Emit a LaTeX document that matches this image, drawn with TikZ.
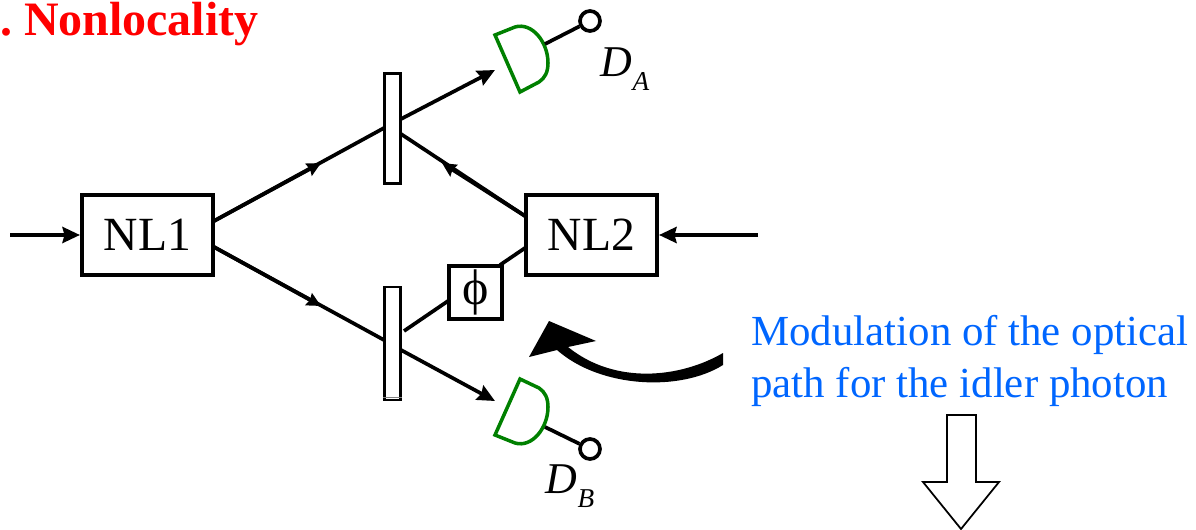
\documentclass[tikz,border=0pt]{standalone}
\usepackage{fontspec}
\setmainfont{Liberation Serif}
\usetikzlibrary{arrows.meta}
\definecolor{detgreen}{RGB}{0,128,0}
\definecolor{notered}{RGB}{255,0,0}
\definecolor{noteblue}{RGB}{0,102,255}
\tikzset{
  beam/.style={line width=2.1pt},
  ray/.style={beam,-{Stealth[length=3.5mm,width=3.2mm,inset=.4mm]}},
  midray/.style={beam,-{Stealth[length=2.8mm,width=2.7mm,inset=.3mm]}},
  crystal/.style={draw,line width=2.3pt,minimum width=2.62cm,minimum height=1.6cm,inner sep=0pt,font=\fontsize{27.1}{30}\selectfont},
  splitter/.style={draw,line width=1.3pt,fill=white,minimum width=.32cm,inner sep=0pt},
  detector/.style={draw=detgreen,line width=2pt,line join=miter},
  outlet/.style={draw,circle,line width=2.1pt,minimum size=.4cm,inner sep=0pt},
  note/.style={anchor=west,inner sep=0pt,text=noteblue,font=\fontsize{24.4}{26}\selectfont},
  detname/.style={font=\fontsize{25}{28}\selectfont\itshape,inner sep=0pt},
}
\newcommand{\detsub}[1]{\raisebox{-.32em}{\fontsize{15.5}{18}\selectfont #1}}
\begin{document}
\begin{tikzpicture}[x=.02cm,y=-.02cm]
\useasboundingbox (0,0) rectangle (1196,530);
\clip (0,0) rectangle (1196,530);
\node[anchor=west,inner sep=0pt,text=notered,font=\fontsize{27.3}{30}\selectfont\bfseries] (title) at (0,24) {. \hspace{-2.4pt}Nonlocality};
\node[crystal] (nla) at (147.5,235) {NL1};
\node[crystal] (nlb) at (591.5,235) {NL2};
\node[splitter,minimum height=2.2cm] (bsa) at (392.5,128.5) {};
\node[splitter,minimum height=2.26cm] (bsb) at (392.5,343.5) {};
\draw[line width=.6pt,gray] ([yshift=.07cm]bsb.south west) -- ([yshift=.07cm]bsb.south east);
\node[draw,line width=2.3pt,minimum size=1.06cm,inner sep=0pt,font=\fontsize{28.5}{30}\selectfont] (phase) at (475.5,292.5) {\char"03D5};
% detectors
\draw[detector] (495,35) -- (515,27) .. controls (532,22) and (548,42) .. (548,63) .. controls (548,72) and (545,78) .. (539,82) -- (520,92) -- cycle;
\draw[detector] (495,435) -- (515,443) .. controls (532,448) and (548,428) .. (548,407) .. controls (548,398) and (545,392) .. (539,388) -- (520,379) -- cycle;
\node[outlet] (outa) at (590,21) {};
\node[outlet] (outb) at (590,449) {};
\coordinate (deta) at (545,44);
\coordinate (detb) at (545,427);
\draw[beam] (deta) -- (outa);
\draw[beam] (detb) -- (outb);
\node[detname] (namea) at (625,69) {D\detsub{A}};
\node[detname] (nameb) at (570,486) {D\detsub{B}};
% beams
\coordinate (ina) at (10,235);
\coordinate (inb) at (758,235);
\draw[ray] (ina) -- (nla);
\draw[ray] (inb) -- (nlb);
\coordinate (a1) at (214,221);
\coordinate (a2) at (321,163);
\coordinate (a3) at (384,128);
\coordinate (a4) at (401,119);
\coordinate (a5) at (495,70);
\draw[beam] (a1) -- (a3);
\draw[midray] (a1) -- (a2);
\draw[ray] (a4) -- (a5);
\coordinate (b1) at (214,247);
\coordinate (b2) at (321,306);
\coordinate (b3) at (384,340);
\coordinate (b4) at (401,350);
\coordinate (b5) at (495,401);
\draw[beam] (b1) -- (b3);
\draw[midray] (b1) -- (b2);
\draw[ray] (b4) -- (b5);
\coordinate (c1) at (525,216);
\coordinate (c2) at (442,163);
\coordinate (c3) at (401,134);
\draw[beam] (c1) -- (c3);
\draw[midray] (c1) -- (c2);
\coordinate (d1) at (525,248);
\coordinate (d2) at (500,265);
\coordinate (d3) at (448,301);
\coordinate (d4) at (404,331);
\draw[beam] (d1) -- (d2);
\draw[beam] (d3) -- (d4);
% curved pointer
\fill (723,353) .. controls (680,378) and (615,385) .. (568,347) -- (596,341) -- (549,321) -- (529,357) -- (557,350) .. controls (600,388) and (680,392) .. (723,365) -- cycle;
\node[note] (notea) at (751,335) {Modulation of the optical};
\node[note] (noteb) at (751,387) {path for the idler photon};
\draw[line width=1pt,line join=miter] (947,415) -- (976,415) -- (976,482) -- (999,482) -- (961,529) -- (923,482) -- (947,482) -- cycle;
\end{tikzpicture}
\end{document}
